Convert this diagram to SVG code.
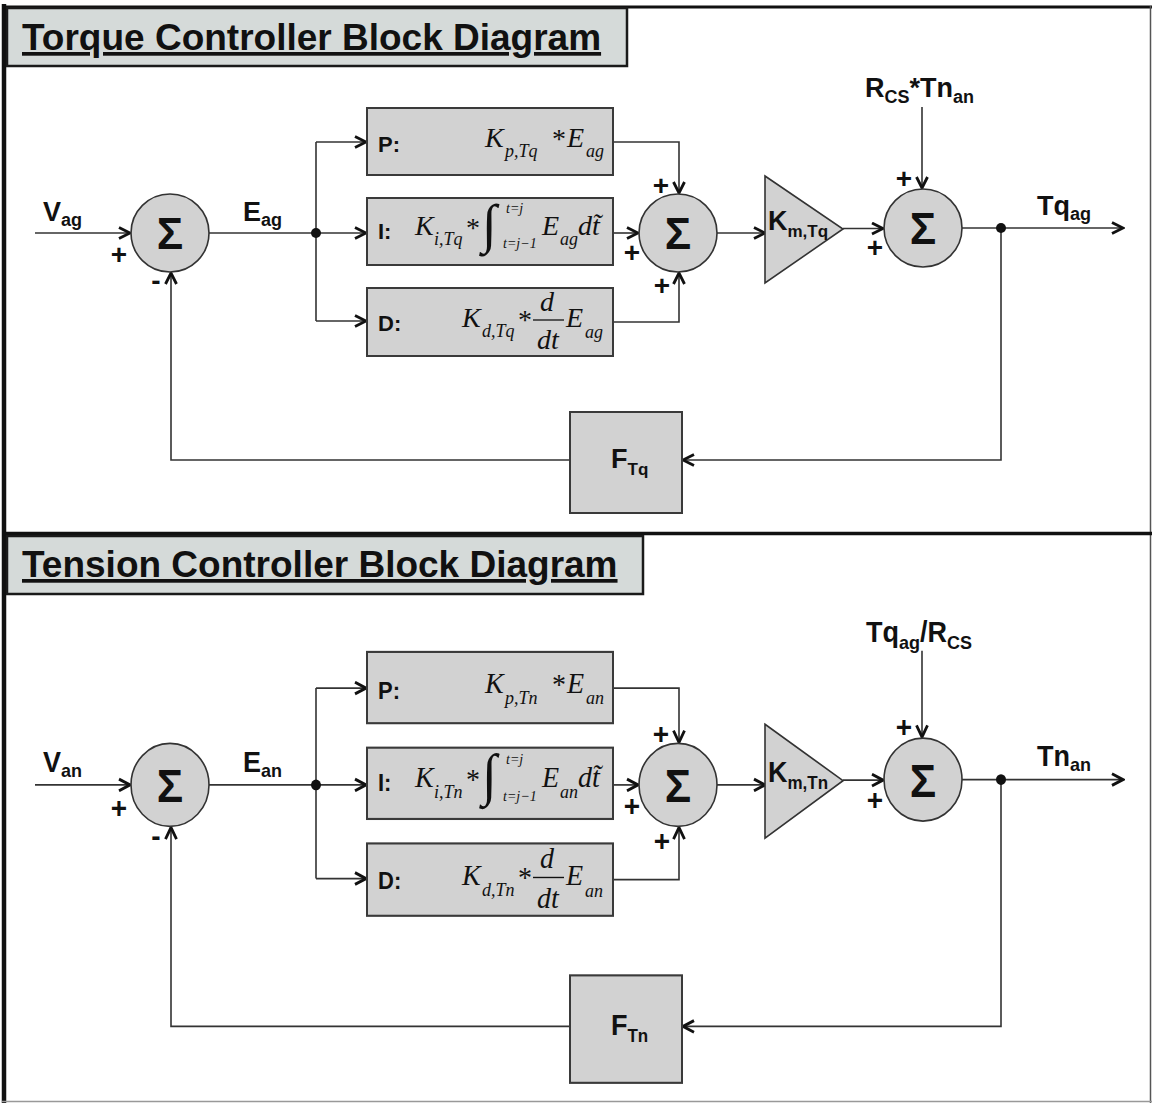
<svg xmlns="http://www.w3.org/2000/svg" width="1152" height="1103" viewBox="0 0 1152 1103">
<defs>
<marker id="arr" markerUnits="userSpaceOnUse" viewBox="0 0 14 14" refX="12.5" refY="7" markerWidth="14" markerHeight="14" orient="auto">
<path d="M1.5,1.5 L12.5,7 L1.5,12.5" fill="none" stroke="#111" stroke-width="2.8" stroke-linejoin="miter"/>
</marker>
</defs>
<style>
.frame{stroke:#111;fill:none}
.ttl{fill:#d5dad9;stroke:#1a1a1a;stroke-width:2.5}
.ttxt{font-family:"Liberation Sans",Arial,sans-serif;font-weight:bold;font-size:37px;fill:#111;text-decoration:underline}
.blk{fill:#d2d2d2;stroke:#3a3a3a;stroke-width:2}
.sum{fill:#d2d2d2;stroke:#333;stroke-width:1.6}
.sig{font-family:"Liberation Sans",Arial,sans-serif;font-weight:bold;font-size:44px;fill:#111;text-anchor:middle}
.lbl{font-family:"Liberation Sans",Arial,sans-serif;font-weight:bold;font-size:27px;fill:#111}
.sb{font-size:18px}
.pm{font-family:"Liberation Sans",Arial,sans-serif;font-weight:bold;font-size:28px;fill:#111;text-anchor:middle}
.pid{font-family:"Liberation Sans",Arial,sans-serif;font-weight:bold;font-size:22px;fill:#111}
.m{font-family:"Liberation Serif","Times New Roman",serif;font-style:italic;font-size:28px;fill:#111}
.ms{font-family:"Liberation Serif","Times New Roman",serif;font-style:italic;font-size:18px;fill:#111}
.lim{font-family:"Liberation Serif","Times New Roman",serif;font-style:italic;font-size:14px;fill:#111}
.ast{font-family:"Liberation Serif","Times New Roman",serif;font-size:28px;fill:#111}
.int{font-family:"Liberation Serif","Times New Roman",serif;font-size:54px;fill:#111}
.c{fill:none;stroke:#333;stroke-width:1.6}
.ca{fill:none;stroke:#333;stroke-width:1.6;marker-end:url(#arr)}
.dot{fill:#111}
</style>
<rect width="1152" height="1103" fill="#fff"/>

<g id="frame">
<line class="frame" x1="4" y1="4" x2="4" y2="1103" stroke-width="4.5"/>
<line class="frame" x1="2" y1="7" x2="1152" y2="7" stroke-width="3"/>
<line x1="1150.5" y1="6" x2="1150.5" y2="1103" stroke="#555" stroke-width="1.5"/>
<line class="frame" x1="2" y1="533.5" x2="1152" y2="533.5" stroke-width="3.5"/>
<line x1="2" y1="1101.5" x2="1152" y2="1101.5" stroke="#999" stroke-width="1.5"/>
</g>

<g id="title-torque">
<rect class="ttl" x="7" y="8" width="620" height="58"/>
<text class="ttxt" x="22" y="50">Torque Controller Block Diagram</text>
</g>
<g id="title-tension">
<rect class="ttl" x="7" y="536" width="636" height="58"/>
<text class="ttxt" x="22" y="577">Tension Controller Block Diagram</text>
</g>

<!-- ===== TOP: torque controller ===== -->
<g id="torque">
<g id="t-connectors">
<path class="ca" d="M35,233 H130"/>
<path class="c" d="M209,233 H316"/>
<path class="c" d="M316,142 V321"/>
<path class="ca" d="M316,142 H366"/>
<path class="ca" d="M316,233 H366"/>
<path class="ca" d="M316,321 H366"/>
<path class="ca" d="M613,142 H679 V193"/>
<path class="ca" d="M613,233 H638"/>
<path class="ca" d="M613,322 H679 V273"/>
<path class="ca" d="M717,233 H765"/>
<path class="ca" d="M843,228.5 H883"/>
<path class="ca" d="M922,107 V188"/>
<path class="ca" d="M962,228 H1123"/>
<path class="ca" d="M1001,228 V460 H683"/>
<path class="ca" d="M570,460 H171 V273"/>
<circle class="dot" cx="316" cy="233" r="5"/>
<circle class="dot" cx="1001" cy="228" r="5"/>
</g>
<g id="t-vin"><text class="lbl" x="43" y="221">V<tspan class="sb" dy="5">ag</tspan></text></g>
<g id="t-sum1">
<circle class="sum" cx="170" cy="233" r="39"/>
<text class="sig" x="170" y="249">Σ</text>
<text class="pm" x="119" y="264">+</text>
<text class="pm" x="156" y="290">-</text>
</g>
<g id="t-err"><text class="lbl" x="243" y="221">E<tspan class="sb" dy="5">ag</tspan></text></g>
<g id="t-P">
<rect class="blk" x="367" y="108" width="246" height="67"/>
<text class="pid" x="378" y="152">P:</text>
<text class="m" x="485" y="147">K</text><text class="ms" x="505" y="157">p,Tq</text>
<text class="ast" x="552" y="148">*</text>
<text class="m" x="567" y="147">E</text><text class="ms" x="586" y="157">ag</text>
</g>
<g id="t-I">
<rect class="blk" x="367" y="198" width="246" height="67"/>
<text class="pid" x="378" y="239">I:</text>
<text class="m" x="415" y="235">K</text><text class="ms" x="434" y="245">i,Tq</text>
<text class="ast" x="466" y="237">*</text>
<text class="int" x="482" y="242">∫</text>
<text class="lim" x="506" y="213">t=j</text>
<text class="lim" x="503" y="248">t=j−1</text>
<text class="m" x="542" y="235">E</text><text class="ms" x="560" y="245">ag</text>
<text class="m" x="578" y="235">dt̃</text>
</g>
<g id="t-D">
<rect class="blk" x="367" y="288" width="246" height="68"/>
<text class="pid" x="378" y="331">D:</text>
<text class="m" x="462" y="327">K</text><text class="ms" x="482" y="337">d,Tq</text>
<text class="ast" x="518" y="329">*</text>
<text class="m" x="540" y="311">d</text>
<line x1="533" y1="320" x2="564" y2="320" stroke="#111" stroke-width="1.3"/>
<text class="m" x="537" y="349">dt</text>
<text class="m" x="566" y="327">E</text><text class="ms" x="585" y="338">ag</text>
</g>
<g id="t-sum2">
<circle class="sum" cx="678" cy="233" r="39"/>
<text class="sig" x="678" y="249">Σ</text>
<text class="pm" x="661" y="195">+</text>
<text class="pm" x="632" y="262">+</text>
<text class="pm" x="662" y="295">+</text>
</g>
<g id="t-gain">
<polygon class="sum" points="765,176 843,229 765,283"/>
<text class="lbl" x="768" y="230" font-size="26">K<tspan font-size="17" dy="7">m,Tq</tspan></text>
</g>
<g id="t-sum3">
<circle class="sum" cx="923" cy="228" r="39"/>
<text class="sig" x="923" y="244">Σ</text>
<text class="pm" x="904" y="188">+</text>
<text class="pm" x="875" y="257">+</text>
</g>
<g id="t-dist"><text class="lbl" x="865" y="97" font-size="28">R<tspan class="sb" dy="6">CS</tspan><tspan dy="-6">*Tn</tspan><tspan class="sb" dy="6">an</tspan></text></g>
<g id="t-out"><text class="lbl" x="1037" y="215">Tq<tspan class="sb" dy="5">ag</tspan></text></g>
<g id="t-F">
<rect class="blk" x="570" y="412" width="112" height="101"/>
<text class="lbl" x="611" y="468" font-size="26">F<tspan font-size="17" dy="7">Tq</tspan></text>
</g>
</g>

<!-- ===== BOTTOM: tension controller ===== -->
<g id="tension" transform="matrix(1 0 0 1.064 0 537)">
<g id="b-connectors">
<path class="ca" d="M35,233 H130"/>
<path class="c" d="M209,233 H316"/>
<path class="c" d="M316,142 V321"/>
<path class="ca" d="M316,142 H366"/>
<path class="ca" d="M316,233 H366"/>
<path class="ca" d="M316,321 H366"/>
<path class="ca" d="M613,142 H679 V193"/>
<path class="ca" d="M613,233 H638"/>
<path class="ca" d="M613,322 H679 V273"/>
<path class="ca" d="M717,233 H765"/>
<path class="ca" d="M843,228.5 H883"/>
<path class="ca" d="M922,107 V188"/>
<path class="ca" d="M962,228 H1123"/>
<path class="ca" d="M1001,228 V460 H683"/>
<path class="ca" d="M570,460 H171 V273"/>
<circle class="dot" cx="316" cy="233" r="5"/>
<circle class="dot" cx="1001" cy="228" r="5"/>
</g>
<g id="b-vin"><text class="lbl" x="43" y="221">V<tspan class="sb" dy="5">an</tspan></text></g>
<g id="b-sum1">
<circle class="sum" cx="170" cy="233" r="39"/>
<text class="sig" x="170" y="249">Σ</text>
<text class="pm" x="119" y="264">+</text>
<text class="pm" x="156" y="290">-</text>
</g>
<g id="b-err"><text class="lbl" x="243" y="221">E<tspan class="sb" dy="5">an</tspan></text></g>
<g id="b-P">
<rect class="blk" x="367" y="108" width="246" height="67"/>
<text class="pid" x="378" y="152">P:</text>
<text class="m" x="485" y="147">K</text><text class="ms" x="505" y="157">p,Tn</text>
<text class="ast" x="552" y="148">*</text>
<text class="m" x="567" y="147">E</text><text class="ms" x="586" y="157">an</text>
</g>
<g id="b-I">
<rect class="blk" x="367" y="198" width="246" height="67"/>
<text class="pid" x="378" y="239">I:</text>
<text class="m" x="415" y="235">K</text><text class="ms" x="434" y="245">i,Tn</text>
<text class="ast" x="466" y="237">*</text>
<text class="int" x="482" y="242">∫</text>
<text class="lim" x="506" y="213">t=j</text>
<text class="lim" x="503" y="248">t=j−1</text>
<text class="m" x="542" y="235">E</text><text class="ms" x="560" y="245">an</text>
<text class="m" x="578" y="235">dt̃</text>
</g>
<g id="b-D">
<rect class="blk" x="367" y="288" width="246" height="68"/>
<text class="pid" x="378" y="331">D:</text>
<text class="m" x="462" y="327">K</text><text class="ms" x="482" y="337">d,Tn</text>
<text class="ast" x="518" y="329">*</text>
<text class="m" x="540" y="311">d</text>
<line x1="533" y1="320" x2="564" y2="320" stroke="#111" stroke-width="1.3"/>
<text class="m" x="537" y="349">dt</text>
<text class="m" x="566" y="327">E</text><text class="ms" x="585" y="338">an</text>
</g>
<g id="b-sum2">
<circle class="sum" cx="678" cy="233" r="39"/>
<text class="sig" x="678" y="249">Σ</text>
<text class="pm" x="661" y="195">+</text>
<text class="pm" x="632" y="262">+</text>
<text class="pm" x="662" y="295">+</text>
</g>
<g id="b-gain">
<polygon class="sum" points="765,176 843,229 765,283"/>
<text class="lbl" x="768" y="230" font-size="26">K<tspan font-size="17" dy="7">m,Tn</tspan></text>
</g>
<g id="b-sum3">
<circle class="sum" cx="923" cy="228" r="39"/>
<text class="sig" x="923" y="244">Σ</text>
<text class="pm" x="904" y="188">+</text>
<text class="pm" x="875" y="257">+</text>
</g>
<g id="b-dist"><text class="lbl" x="866" y="99" font-size="28">Tq<tspan class="sb" dy="6">ag</tspan><tspan dy="-6">/R</tspan><tspan class="sb" dy="6">CS</tspan></text></g>
<g id="b-out"><text class="lbl" x="1037" y="215">Tn<tspan class="sb" dy="5">an</tspan></text></g>
<g id="b-F">
<rect class="blk" x="570" y="412" width="112" height="101"/>
<text class="lbl" x="611" y="468" font-size="26">F<tspan font-size="17" dy="7">Tn</tspan></text>
</g>
</g>
</svg>
